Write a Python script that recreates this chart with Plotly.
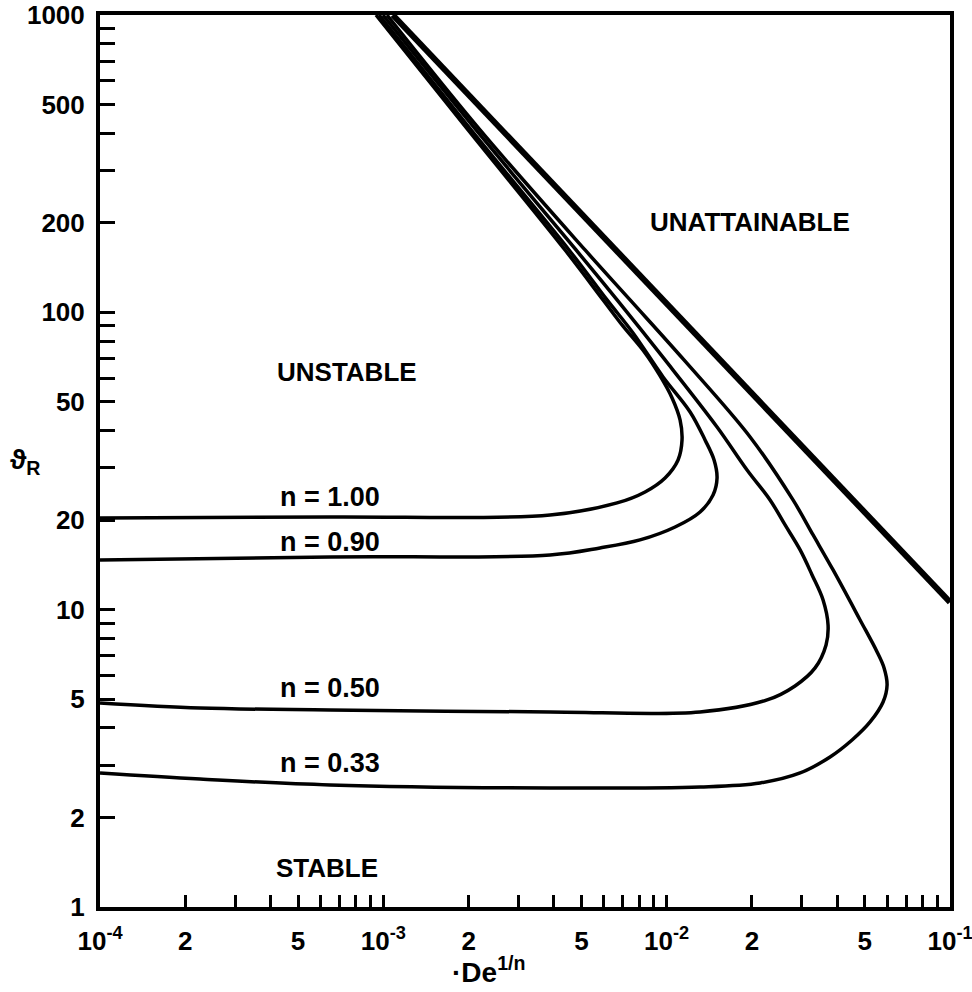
import plotly.graph_objects as go

# Stability map: critical value vs De^(1/n) for several flow indices n
de_n100 = [1.0e-4, 6.485e-4, 3.877e-3, 6.683e-3, 8.39e-3, 9.87e-3, 1.097e-2, 1.133e-2,
           1.115e-2, 1.045e-2, 9.48e-3, 8.39e-3, 6.96e-3, 5.964e-3, 4.378e-3, 1.991e-3, 9.42e-4]
th_n100 = [20.34, 20.50, 20.82, 22.86, 24.89, 27.73, 31.88, 37.23,
           43.46, 51.54, 61.11, 73.02, 90.71, 110.1, 162.1, 410.8, 1000]

de_n090 = [1.0e-4, 6.485e-4, 3.877e-3, 5.817e-3, 8.05e-3, 1.071e-2, 1.312e-2, 1.458e-2,
           1.506e-2, 1.470e-2, 1.366e-2, 1.210e-2, 9.71e-3, 7.61e-3, 6.16e-3, 4.523e-3,
           2.040e-3, 9.66e-4]
th_n090 = [14.70, 15.04, 15.28, 16.13, 17.16, 18.97, 21.31, 24.31,
           27.73, 31.88, 37.23, 46.24, 60.64, 85.22, 110.1, 162.1,
           410.8, 1000]

de_n050 = [1.0e-4, 2.255e-4, 6.485e-4, 3.877e-3, 1.312e-2, 2.262e-2, 2.838e-2, 3.341e-2,
           3.652e-2, 3.712e-2, 3.565e-2, 3.260e-2, 2.958e-2, 2.618e-2, 2.317e-2, 1.922e-2,
           1.506e-2, 9.87e-3, 6.683e-3, 4.789e-3, 2.124e-3, 9.97e-4]
th_n050 = [4.857, 4.67, 4.60, 4.53, 4.53, 4.97, 5.54, 6.37,
           7.61, 8.88, 10.78, 13.09, 15.88, 19.27, 23.39, 29.50,
           41.16, 69.17, 110.1, 162.1, 410.8, 1000]

de_n033 = [1.0e-4, 2.255e-4, 6.485e-4, 3.877e-3, 1.312e-2, 2.137e-2, 2.958e-2, 3.773e-2,
           4.512e-2, 5.224e-2, 5.805e-2, 5.997e-2, 5.852e-2, 5.530e-2, 4.816e-2, 3.867e-2,
           3.287e-2, 2.792e-2, 1.970e-2, 1.151e-2, 7.428e-3, 5.152e-3, 2.194e-3, 1.030e-3]
th_n033 = [2.823, 2.695, 2.573, 2.513, 2.533, 2.613, 2.823, 3.196,
           3.645, 4.192, 4.893, 5.580, 6.368, 7.206, 9.234, 13.60,
           17.83, 23.39, 38.09, 69.17, 110.1, 162.1, 410.8, 1000]

# Upper bound of the attainable region
de_limit = [1.08e-3, 1.0e-1]
th_limit = [1000, 10.6]

x_tickvals = [1e-4, 2e-4, 5e-4, 1e-3, 2e-3, 5e-3, 1e-2, 2e-2, 5e-2, 1e-1]
x_ticktext = ["10<sup>-4</sup>", "2", "5", "10<sup>-3</sup>", "2", "5",
              "10<sup>-2</sup>", "2", "5", "10<sup>-1</sup>"]
x_minor = [m * d for d in (1e-4, 1e-3, 1e-2) for m in (3, 4, 6, 7, 8, 9)]

y_tickvals = [1, 2, 5, 10, 20, 50, 100, 200, 500, 1000]
y_ticktext = ["1", "2", "5", "10", "20", "50", "100", "200", "500", "1000"]
y_minor = [m * d for d in (1, 10, 100) for m in (3, 4, 6, 7, 8, 9)]

FONT = "Liberation Sans"

fig = go.Figure()
for xs, ys in [(de_n100, th_n100), (de_n090, th_n090), (de_n050, th_n050), (de_n033, th_n033)]:
    fig.add_trace(go.Scatter(x=xs, y=ys, mode="lines",
                             line=dict(color="black", width=3.5, shape="spline", smoothing=1.0),
                             showlegend=False, hoverinfo="skip"))
fig.add_trace(go.Scatter(x=de_limit, y=th_limit, mode="lines",
                         line=dict(color="black", width=6),
                         showlegend=False, hoverinfo="skip"))

axis_common = dict(
    type="log", showgrid=False, zeroline=False, automargin=False,
    showline=True, linecolor="black", linewidth=4, mirror=True,
    ticks="inside", tickcolor="black", tickwidth=3, tickmode="array",
    ticklabeloverflow="allow",
    tickfont=dict(family=FONT, size=26, color="black", weight="bold"),
)

fig.update_xaxes(range=[-4, -1], tickvals=x_tickvals, ticktext=x_ticktext, ticklen=12,
                 ticklabelstandoff=8,
                 minor=dict(tickmode="array", tickvals=x_minor, ticks="inside",
                            ticklen=12, tickwidth=3, tickcolor="black"),
                 **axis_common)
fig.update_yaxes(range=[0, 3], tickvals=y_tickvals, ticktext=y_ticktext, ticklen=15,
                 ticklabelstandoff=6,
                 minor=dict(tickmode="array", tickvals=y_minor, ticks="inside",
                            ticklen=15, tickwidth=3, tickcolor="black"),
                 **axis_common)

label_font = dict(family=FONT, size=26, color="black", weight="bold")
n_font = dict(family=FONT, size=27, color="black", weight="bold")
annotations = [
    dict(x=-1.706, y=2.304, text="UNATTAINABLE", font=label_font),
    dict(x=-3.128, y=1.80, text="UNSTABLE", font=label_font),
    dict(x=-3.199, y=0.131, text="STABLE", font=label_font),
    dict(x=-3.188, y=1.379, text="n = 1.00", font=n_font),
    dict(x=-3.188, y=1.228, text="n = 0.90", font=n_font),
    dict(x=-3.188, y=0.737, text="n = 0.50", font=n_font),
    dict(x=-3.188, y=0.484, text="n = 0.33", font=n_font),
]
for a in annotations:
    a.update(xref="x", yref="y", showarrow=False, xanchor="center", yanchor="middle")

annotations += [
    dict(x=0.4565, y=-0.0925, xref="paper", yref="paper", showarrow=False,
         text="·De<sup>1/n</sup>", xanchor="center", yanchor="bottom",
         font=dict(family=FONT, size=28, color="black", weight="bold")),
    dict(x=-0.088, y=0.50, xref="paper", yref="paper", showarrow=False,
         text="ϑ<sub>R</sub>", xanchor="center", yanchor="middle",
         font=dict(family=FONT, size=28, color="black", weight="bold")),
]

fig.update_layout(
    width=972, height=992,
    margin=dict(l=100, r=22, t=15, b=85),
    paper_bgcolor="white", plot_bgcolor="white",
    annotations=annotations,
    showlegend=False,
)

fig.write_html("out.html")
